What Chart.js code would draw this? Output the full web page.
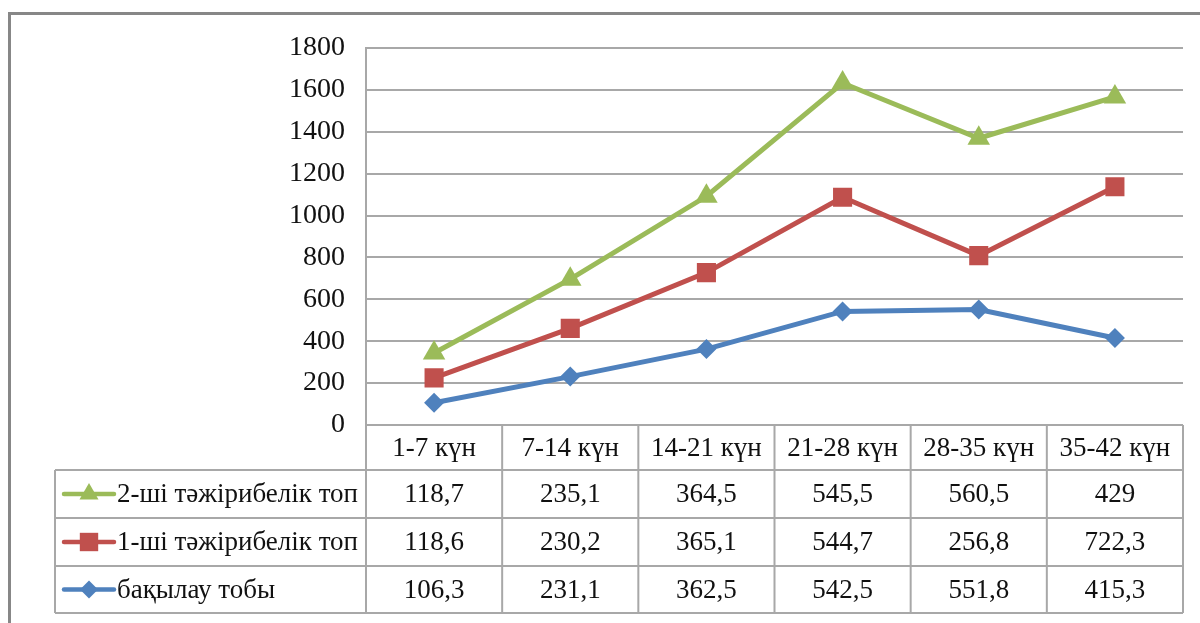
<!DOCTYPE html>
<html>
<head>
<meta charset="utf-8">
<script src="https://cdn.jsdelivr.net/npm/chart.js@4.4.1/dist/chart.umd.min.js"></script>
<style>
  html, body { margin: 0; padding: 0; background: #ffffff; }
  #wrap { width: 1200px; height: 623px; position: relative; }
</style>
</head>
<body>
<div id="wrap"><canvas id="chart" width="1200" height="623"></canvas></div>
<script>
// Periods (days) and weight gain per group
const periods = ['1-7 күн', '7-14 күн', '14-21 күн', '21-28 күн', '28-35 күн', '35-42 күн'];
const controlGroup = [106.3, 231.1, 362.5, 542.5, 551.8, 415.3];
const group1 = [118.6, 230.2, 365.1, 544.7, 256.8, 722.3];
const group2 = [118.7, 235.1, 364.5, 545.5, 560.5, 429];
const seriesNames = ['бақылау тобы', '1-ші тәжірибелік топ', '2-ші тәжірибелік топ'];
const seriesColors = ['#4F81BD', '#C0504D', '#9BBB59'];
const yMin = 0, yMax = 1800, yStep = 200;

const GRID = '#A8A8A8';
const FONT = '"Liberation Serif", "Times New Roman", serif';

const fmt = v => String(v).replace('.', ',');

// Draws the frame and the data table underneath the plot
const dataTable = {
  id: 'dataTable',
  beforeDraw(chart) {
    const ctx = chart.ctx;
    ctx.save();
    ctx.strokeStyle = '#878787';
    ctx.lineWidth = 3;
    ctx.beginPath();
    ctx.moveTo(9.5, 623);
    ctx.lineTo(9.5, 13.5);
    ctx.lineTo(1200, 13.5);
    ctx.stroke();
    ctx.restore();
  },
  afterDraw(chart) {
    const ctx = chart.ctx;
    const area = chart.chartArea;
    const xs = chart.scales.x;
    const colW = (area.right - area.left) / periods.length;
    const top = area.bottom;
    const rowH = [45, 48, 48, 47];
    const rowY = [top];
    rowH.forEach((h, i) => rowY.push(rowY[i] + h));
    const legendLeft = 55;

    ctx.save();
    ctx.strokeStyle = GRID;
    ctx.lineWidth = 2;
    ctx.beginPath();
    // horizontal lines
    ctx.moveTo(area.left, rowY[0]); ctx.lineTo(area.right, rowY[0]);
    for (let r = 1; r < rowY.length; r++) {
      ctx.moveTo(legendLeft, rowY[r]); ctx.lineTo(area.right, rowY[r]);
    }
    // vertical lines
    ctx.moveTo(legendLeft, rowY[1]); ctx.lineTo(legendLeft, rowY[4]);
    for (let c = 0; c <= periods.length; c++) {
      const x = area.left + c * colW;
      ctx.moveTo(x, rowY[0]); ctx.lineTo(x, rowY[4]);
    }
    ctx.stroke();

    ctx.fillStyle = '#111111';
    ctx.font = '27px ' + FONT;
    ctx.textAlign = 'center';
    ctx.textBaseline = 'middle';
    // header
    periods.forEach((p, i) => {
      ctx.fillText(p, xs.getPixelForValue(i), rowY[0] + rowH[0] / 2 + 1);
    });
    // rows: top row is the last dataset (legend order reversed)
    const rows = [
      { name: seriesNames[2], color: seriesColors[2], vals: group2, style: 'triangle' },
      { name: seriesNames[1], color: seriesColors[1], vals: group1, style: 'rect' },
      { name: seriesNames[0], color: seriesColors[0], vals: controlGroup, style: 'rectRot' }
    ];
    rows.forEach((row, r) => {
      const cy = rowY[r + 1] + rowH[r + 1] / 2;
      ctx.textAlign = 'center';
      ctx.fillStyle = '#111111';
      row.vals.forEach((v, i) => {
        ctx.fillText(fmt(v), xs.getPixelForValue(i), cy + 1);
      });
      // legend key
      ctx.strokeStyle = row.color;
      ctx.lineWidth = 4.5;
      ctx.lineCap = 'round';
      ctx.beginPath();
      ctx.moveTo(64, cy); ctx.lineTo(114, cy);
      ctx.stroke();
      ctx.fillStyle = row.color;
      const radius = row.style === 'triangle' ? 11 : row.style === 'rect' ? 13 : 9;
      Chart.helpers.drawPoint(ctx, { pointStyle: row.style, radius: radius, borderWidth: 0 }, 89, cy);
      ctx.fillStyle = '#111111';
      ctx.textAlign = 'left';
      ctx.fillText(row.name, 117, cy + 1);
    });
    ctx.restore();
  }
};

const pointStyles = ['rectRot', 'rect', 'triangle'];
const pointRadii = [10, 13.5, 13];
const seriesData = [controlGroup, group1, group2];

new Chart(document.getElementById('chart'), {
  type: 'line',
  data: {
    labels: periods,
    datasets: seriesData.map((d, i) => ({
      label: seriesNames[i],
      data: d,
      borderColor: seriesColors[i],
      backgroundColor: seriesColors[i],
      borderWidth: 5,
      pointStyle: pointStyles[i],
      pointRadius: pointRadii[i],
      pointBorderWidth: 0,
      pointBackgroundColor: seriesColors[i],
      tension: 0,
      fill: false
    }))
  },
  options: {
    responsive: false,
    animation: false,
    devicePixelRatio: 1,
    layout: { padding: { left: 0, top: 48, right: 17, bottom: 198 } },
    plugins: {
      legend: { display: false },
      tooltip: { enabled: false }
    },
    scales: {
      x: {
        display: false,
        offset: true
      },
      y: {
        stacked: true,
        min: yMin,
        max: yMax,
        ticks: {
          stepSize: yStep,
          color: '#111111',
          padding: 21,
          font: { family: FONT, size: 28 },
          callback: v => String(v)
        },
        grid: { color: GRID, lineWidth: 2, drawTicks: false },
        border: { color: GRID, width: 2 },
        afterFit(scale) { scale.width = 366; }
      }
    }
  },
  plugins: [dataTable]
});
</script>
</body>
</html>
